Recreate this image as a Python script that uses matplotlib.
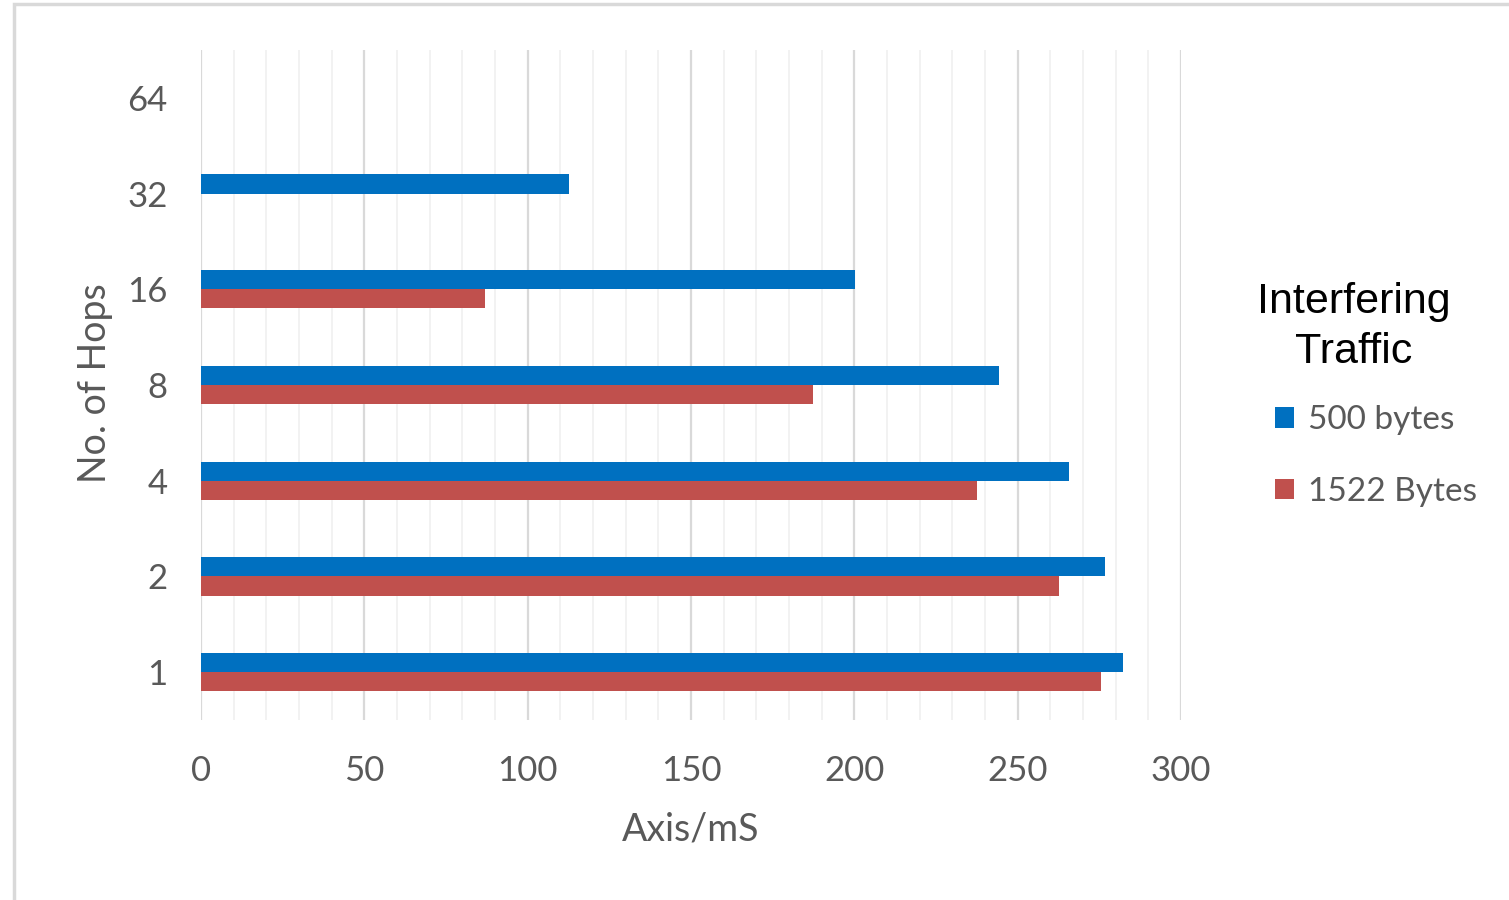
import matplotlib
matplotlib.use("Agg")
import matplotlib.pyplot as plt
from matplotlib.patches import Rectangle
import numpy as np

# Data
hops = ["1", "2", "4", "8", "16", "32", "64"]
series_names = ["500 bytes", "1522 Bytes"]
delay_500 = [282.2, 276.8, 265.8, 244.4, 200.2, 112.6, 0]
delay_1522 = [275.5, 262.7, 237.6, 187.4, 87.0, 0, 0]
x_ticks = [0, 50, 100, 150, 200, 250, 300]

BLUE = "#0070C0"
RED = "#C0504D"
GRAY_TXT = "#595959"

W, H = 1509, 900
fig = plt.figure(figsize=(W / 100, H / 100), dpi=100)
fig.patch.set_facecolor("white")

# light frame around the chart
fig.patches.append(Rectangle((14 / W, -0.01), 1.2, 1 - 4 / H + 0.01,
                             transform=fig.transFigure, fill=False,
                             edgecolor="#d9d9d9", linewidth=2.5))

ax = fig.add_axes([201 / W, 1 - 720 / H, 980 / W, 670 / H])

y = np.arange(len(hops))
bh = 0.2
ax.barh(y + bh / 2, delay_500, height=bh, color=BLUE, label=series_names[0], zorder=3)
ax.barh(y - bh / 2, delay_1522, height=bh, color=RED, label=series_names[1], zorder=3)

ax.set_xlim(0, 300)
ax.set_ylim(-0.5, len(hops) - 0.5)

# gridlines: major every 50, minor every 10
for v in np.arange(0, 301, 10):
    if v % 50 == 0:
        ax.axvline(v, color="#d9d9d9", lw=1.6, zorder=1)
    else:
        ax.axvline(v, color="#efefef", lw=1.1, zorder=1)

for s in ax.spines.values():
    s.set_visible(False)

ax.set_xticks(x_ticks)
ax.set_xticklabels([str(t) for t in x_ticks])
ax.set_yticks(y)
ax.set_yticklabels(hops)
ax.tick_params(axis="both", length=0, labelsize=25, labelcolor=GRAY_TXT)
ax.tick_params(axis="x", pad=25)
ax.tick_params(axis="y", pad=24)
for lab in ax.get_xticklabels() + ax.get_yticklabels():
    lab.set_family("Lato")

ax.set_xlabel("Axis/mS", fontsize=27, color=GRAY_TXT, family="Lato", va="center")
ax.xaxis.set_label_coords(0.5, (720 - 830) / 670)
ax.set_ylabel("No. of Hops", fontsize=27, color=GRAY_TXT, family="Lato", va="center")
ax.yaxis.set_label_coords((95 - 201) / 980, (720 - 383) / 670)

# legend title and entries
fig.text(1354 / W, 1 - 327 / H, "Interfering\nTraffic", ha="center", va="center",
         fontsize=31, family="Liberation Sans", color="black", linespacing=1.3)

leg = fig.legend(loc="upper left", bbox_to_anchor=(1275 / W, 1 - 405 / H),
                 frameon=False, borderpad=0, borderaxespad=0,
                 prop={"family": "Lato", "size": 24},
                 handlelength=0.58, handleheight=0.58, handletextpad=0.4,
                 labelspacing=1.25)
for t in leg.get_texts():
    t.set_color(GRAY_TXT)

fig.savefig("out.png", dpi=100, facecolor="white")
